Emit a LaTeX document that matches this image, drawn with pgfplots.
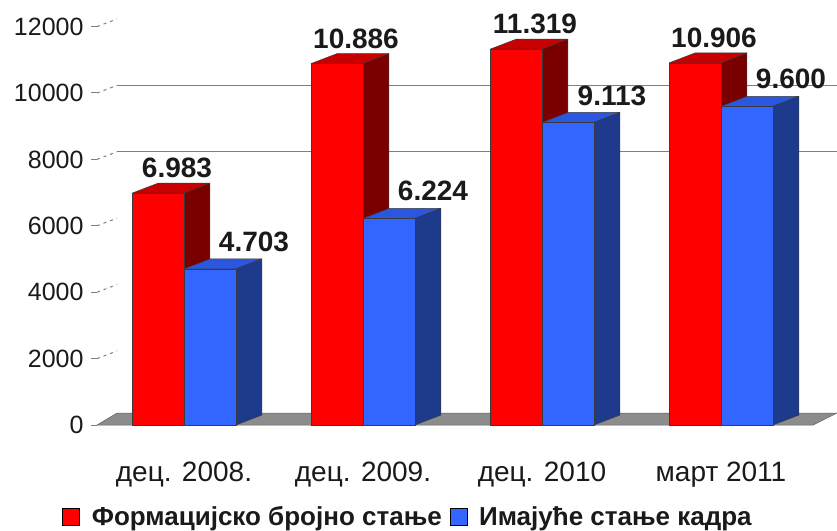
\documentclass[border=0pt]{standalone}
\usepackage{pgfplots}
\pgfplotsset{compat=1.18}
\usepackage{pgfplotstable}
\usepackage{fontspec}
\setmainfont{Liberation Sans}

\definecolor{redfront}{HTML}{FF0000}
\definecolor{redtop}{HTML}{C80000}
\definecolor{redside}{HTML}{7A0000}
\definecolor{bluefront}{HTML}{3366FF}
\definecolor{bluetop}{HTML}{2A56E0}
\definecolor{blueside}{HTML}{1E3A8C}
\definecolor{edge}{HTML}{3A3A3A}
\definecolor{floorgray}{HTML}{8C8C8C}
\definecolor{gridgray}{HTML}{7F7F7F}
\definecolor{labeldark}{HTML}{1A1A1A}

\pgfplotstableread{
x red blue
0 6983 4703
1 10886 6224
2 11319 9113
3 10906 9600
}\data

% top and side faces of one bar: #1 left x, #2 value, #3 top colour, #4 side colour
\newcommand{\prism}[4]{%
  \pgfmathsetmacro\pxl{#1}%
  \pgfmathsetmacro\pxr{#1+0.29}%
  \pgfmathsetmacro\pxlb{#1+0.145}%
  \pgfmathsetmacro\pxrb{#1+0.435}%
  \pgfmathsetmacro\pv{#2}%
  \pgfmathsetmacro\pvt{#2+300}%
  \edef\prismtmp{%
    \noexpand\addplot[forget plot, fill=#3, draw=edge, line width=0.5pt, line join=round] coordinates {(\pxl,\pv) (\pxlb,\pvt) (\pxrb,\pvt) (\pxr,\pv)} -- cycle;
    \noexpand\addplot[forget plot, fill=#4, draw=edge, line width=0.5pt, line join=round] coordinates {(\pxr,0) (\pxrb,300) (\pxrb,\pvt) (\pxr,\pv)} -- cycle;
  }\prismtmp
}

\begin{document}
\begin{tikzpicture}
\useasboundingbox (0,0) rectangle (837pt,530pt);
\begin{axis}[
  at={(184pt,105pt)}, anchor=origin,
  x=179pt, y=0.0332pt,
  xmin=-0.486, xmax=3.514, ymin=0, ymax=12000,
  clip=false,
  axis line style={draw=none},
  xtick={0,1,2,3},
  xticklabels={дец. 2008., дец. 2009., дец. 2010, март 2011},
  xtick pos=bottom, ytick pos=left,
  xtick style={draw=none},
  ytick={0,2000,...,12000},
  scaled y ticks=false,
  ytick style={draw=gridgray, line width=1pt},
  tick align=outside,
  major tick length=6pt,
  /pgf/number format/assume math mode=true,
  yticklabel style={font=\fontsize{25}{25}\selectfont, text=labeldark, xshift=-4pt, /pgf/number format/1000 sep={}},
  xticklabel style={font=\fontsize{28}{28}\selectfont, text=labeldark, yshift=-27pt},
  legend image code/.code={\fill[#1] (0pt,-8.5pt) rectangle (17pt,8.5pt);},
  legend columns=2,
  legend style={draw=none, fill=none, at={(axis cs:1.246,-2771)}, anchor=center,
    font=\bfseries\fontsize{26}{26}\selectfont, text=labeldark,
    nodes={inner xsep=0pt, inner ysep=1pt},
    /tikz/every even column/.append style={column sep=8pt},
    /tikz/every odd column/.append style={column sep=12pt}},
]
% floor
\addplot[forget plot, fill=floorgray, draw=edge!80, line width=0.5pt] coordinates {(-0.486,0) (3.514,0) (3.648,360) (-0.374,360)} -- cycle;
% back wall grid lines and side wall dashes
\draw[gridgray, line width=1.2pt] (axis cs:-0.374,8230) -- (axis cs:3.648,8230);
\draw[gridgray, line width=1.2pt] (axis cs:-0.374,10230) -- (axis cs:3.648,10230);
\pgfplotsinvokeforeach{2000,4000,6000,8000,10000,12000}{%
  \draw[gridgray, line width=1pt, dash pattern=on 3pt off 4pt] (axis cs:-0.486,#1) -- (axis cs:-0.374,#1+230);
}
% red top/side faces
\pgfplotsforeachungrouped \i in {0,...,3}{%
  \pgfplotstablegetelem{\i}{red}\of\data
  \let\vr\pgfplotsretval
  \prism{\i-0.29}{\vr}{redtop}{redside}%
}
% blue top/side faces
\pgfplotsforeachungrouped \i in {0,...,3}{%
  \pgfplotstablegetelem{\i}{blue}\of\data
  \let\vb\pgfplotsretval
  \prism{\i}{\vb}{bluetop}{blueside}%
}
% front faces (value labels are placed relative to the category centre)
\addplot[forget plot, ybar, bar width=0.29, bar shift=-0.145, fill=redfront, draw=edge, line width=0.5pt,
  nodes near coords,
  every node near coord/.append style={font=\bfseries\fontsize{28}{28}\selectfont, text=labeldark, anchor=center, xshift=-7pt, yshift=25pt, /pgf/number format/1000 sep={.}}]
  table[x=x, y=red]{\data};
\addplot[forget plot, ybar, bar width=0.29, bar shift=0.145, fill=bluefront, draw=edge, line width=0.5pt,
  nodes near coords,
  every node near coord/.append style={font=\bfseries\fontsize{28}{28}\selectfont, text=labeldark, anchor=center, xshift=70pt, yshift=27pt, /pgf/number format/1000 sep={.}}]
  table[x=x, y=blue]{\data};
\addlegendimage{fill=redfront}
\addlegendentry{Формацијско бројно стање}
\addlegendimage{fill=bluefront}
\addlegendentry{Имајуће стање кадра}
\end{axis}
\end{tikzpicture}
\end{document}
